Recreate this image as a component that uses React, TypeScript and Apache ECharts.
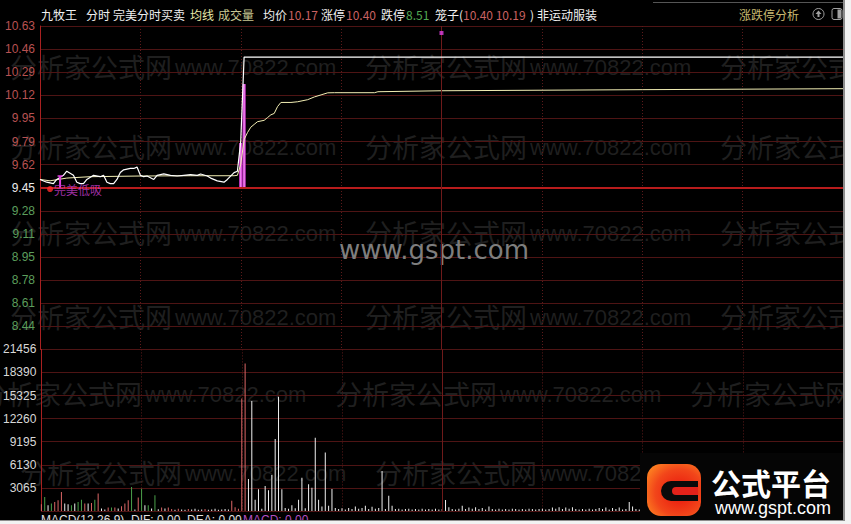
import React, { useEffect, useRef } from "react";
import * as echarts from "echarts";

// ---------- data ----------
const stockName = "九牧王";
const prevClose = 9.45;
const priceStep = 0.168;
const avgPriceText = "10.17";
const limitUpText = "10.40";
const limitDownText = "8.51";
const cageText = "10.40 10.19";
const industryText = "非运动服装";
const volumeTop = 21456;

// price line: minute index (0 = 9:30 ... 240 = 15:00) and price
const priceMinutes = [0, 2, 4, 5, 7, 8, 10, 11, 12, 13, 14, 16, 18, 19, 20, 21, 22, 23, 24, 25, 27, 28, 29, 30, 31, 32, 34, 35, 37, 39, 41, 43, 45, 47, 48, 50, 51, 53, 55, 56, 58, 59, 60, 61, 240];
const priceValues = [9.51, 9.49, 9.48, 9.51, 9.54, 9.57, 9.54, 9.49, 9.48, 9.48, 9.51, 9.54, 9.53, 9.54, 9.49, 9.48, 9.48, 9.51, 9.56, 9.58, 9.59, 9.59, 9.6, 9.54, 9.53, 9.535, 9.51, 9.54, 9.55, 9.54, 9.535, 9.54, 9.545, 9.54, 9.55, 9.535, 9.52, 9.5, 9.49, 9.51, 9.56, 9.57, 9.79, 10.4, 10.4];

// average price line
const avgMinutes = [0, 3, 8, 15, 30, 45, 58, 59, 60, 61, 62, 63, 64, 65, 67, 68, 69, 70, 71, 72, 75, 77, 80, 82, 84, 86, 88, 100, 101, 120, 180, 240];
const avgValues = [9.51, 9.5, 9.52, 9.53, 9.535, 9.537, 9.537, 9.54, 9.62, 9.8, 9.85, 9.89, 9.91, 9.93, 9.94, 9.96, 9.98, 9.99, 10.04, 10.07, 10.07, 10.075, 10.09, 10.11, 10.125, 10.14, 10.141, 10.141, 10.148, 10.155, 10.163, 10.17];

// per-minute volume, minutes 0..240
const volumes = [
  900, 1860, 760, 980, 1190, 1420, 2520, 980, 890, 760,
  980, 1190, 1510, 980, 980, 1060, 1510, 2310, 320, 190,
  450, 450, 450, 320, 620, 980, 1420, 3180, 190, 1780,
  2970, 760, 760, 320, 2080, 230, 450, 320, 450, 260,
  180, 300, 200, 150, 260, 200, 300, 150, 200, 260,
  150, 200, 300, 150, 200, 260, 200, 1370, 490, 300,
  14950, 19600, 4250, 14600, 1500, 2880, 300, 3320, 2740, 4780,
  9550, 15170, 2900, 400, 300, 780, 350, 1500, 4430, 350,
  3540, 3100, 9720, 1500, 600, 7780, 700, 2930, 400, 250,
  350, 200, 400, 250, 600, 300, 400, 700, 250, 550,
  300, 400, 5300, 250, 2030, 700, 250, 300, 200, 250,
  300, 200, 250, 200, 300, 200, 250, 200, 300, 200,
  250, 1460, 500, 250, 200, 300, 700, 250, 450, 300,
  500, 250, 400, 200, 600, 250, 200, 300, 200, 250,
  200, 300, 250, 200, 250, 200, 300, 250, 200, 250,
  300, 200, 250, 450, 300, 500, 250, 450, 300, 500,
  250, 200, 250, 200, 300, 200, 250, 400, 250, 450,
  200, 400, 250, 450, 200, 250, 1200, 600, 250, 200,
  300, 200, 250, 300, 600, 200, 250, 700, 200, 250,
  300, 200, 250, 200, 300, 450, 200, 250, 300, 200,
  250, 200, 300, 250, 400, 200, 250, 300, 200, 250,
  300, 200, 250, 200, 300, 250, 200, 250, 300, 200,
  250, 300, 200, 250, 200, 300, 250, 200, 400, 250,
  200, 300, 250, 200, 250, 300, 200, 250, 300, 450,
  900,
];
// price direction of minutes 0..61 (1 up, -1 down, 0 flat); later minutes sit flat at limit-up
const volumeDir = [
  1, -1, 0, -1, 1, 1, 1, 0, 0, -1,
  0, -1, -1, 1, 0, 1, -1, 1, 0, 0,
  1, -1, 1, 0, 1, 1, 1, -1, 0, 1,
  -1, 0, -1, 0, -1, 0, 1, 0, 1, 1,
  0, 1, 0, 0, 1, 0, 0, 0, 0, 1,
  0, 0, 0, 0, 0, 0, 0, 1, 1, 1,
  1, 1,
];

// "完美分时买卖" signal bars: minute, from, to
const signalBars = [
  [60, 9.45, 9.775],
  [61, 9.45, 10.204],
];
const lowBuyMark = [6, 9.45, 9.535];
const lowBuyDot = [3, 9.44];
const lowBuyLabel = "完美低吸";
const topDot = [120, 10.575];

const wmCjk = "分析家公式网";
const wmLatin = "www.70822.com";

export default function App() {
  const ref = useRef<HTMLDivElement>(null);

  useEffect(() => {
    if (!ref.current) return;
    const chart = echarts.init(ref.current, undefined, { renderer: "svg" });

    const pMin = +(prevClose - 7 * priceStep).toFixed(3);
    const pMax = +(prevClose + 7 * priceStep).toFixed(3);

    const priceData = priceMinutes.map((m, i) => [m, priceValues[i]]);
    const avgData = avgMinutes.map((m, i) => [m, avgValues[i]]);
    const volData = volumes.map((v, i) => [i, v, i < volumeDir.length ? volumeDir[i] : 0]);

    const cjk = '"Noto Sans CJK SC", sans-serif';
    const header: any[] = [
      [stockName, 41, "#f0f0f0"],
      ["分时", 86, "#f0f0f0"],
      ["完美分时买卖", 113, "#f0f0f0"],
      ["均线", 190, "#e8e8a8"],
      ["成交量", 218, "#c8c894"],
      ["均价", 263, "#f0f0f0"],
      [avgPriceText, 288, "#c86262"],
      ["涨停", 321, "#f0f0f0"],
      [limitUpText, 346, "#c86262"],
      ["跌停", 381, "#f0f0f0"],
      [limitDownText, 406, "#52a852"],
      ["笼子(", 435, "#f0f0f0"],
      [cageText, 463, "#c86262"],
      [")", 530, "#f0f0f0"],
      [industryText, 537, "#f0f0f0"],
      ["涨跌停分析", 739, "#c8b870"],
    ];

    const wmRows = [
      [66, 10],
      [146, 10],
      [232, 10],
      [316, 10],
      [393, -20],
      [472, 20],
    ];
    const wmColor = "#1f1f1f";
    const watermarks: any[] = [];
    wmRows.forEach(([y, x0]) => {
      for (let k = 0; k < 3; k++) {
        const bx = x0 + k * 355;
        if (bx > 843) continue;
        watermarks.push({
          type: "text",
          x: bx,
          y,
          z: -10,
          silent: true,
          style: { text: wmCjk, fill: wmColor, font: '27px "Noto Sans CJK SC", sans-serif', textVerticalAlign: "middle" },
        });
        if (bx + 165 < 843) {
          watermarks.push({
            type: "text",
            x: bx + 165,
            y: y + 1,
            z: -10,
            silent: true,
            style: { text: wmLatin, fill: wmColor, font: '22px "Liberation Sans", sans-serif', textVerticalAlign: "middle" },
          });
        }
      }
    });

    const graphic: any[] = [
      ...watermarks,
      {
        type: "text",
        x: 434,
        y: 250,
        z: 1,
        silent: true,
        style: {
          text: "www.gspt.com",
          fill: "#7e7e7e",
          font: '26px "DejaVu Sans", sans-serif',
          textAlign: "center",
          textVerticalAlign: "middle",
        },
      },
      ...header.map(([t, x, c]) => ({
        type: "text",
        x,
        y: 14,
        z: 5,
        style: { text: t, fill: c, font: `12px ${cjk}`, textVerticalAlign: "middle" },
      })),
      // header icons
      { type: "circle", shape: { cx: 818.5, cy: 14, r: 5.5 }, z: 5, style: { fill: "none", stroke: "#a0a0a0", lineWidth: 1 } },
      { type: "polygon", shape: { points: [[818.5, 10.5], [815.5, 14], [821.5, 14]] }, z: 5, style: { fill: "#a0a0a0" } },
      { type: "rect", shape: { x: 817.5, y: 14, width: 2, height: 3 }, z: 5, style: { fill: "#a0a0a0" } },
      { type: "rect", shape: { x: 832, y: 8.5, width: 10, height: 11, r: 2 }, z: 5, style: { fill: "none", stroke: "#a0a0a0", lineWidth: 1 } },
      { type: "rect", shape: { x: 837.5, y: 9.5, width: 3.5, height: 9 }, z: 5, style: { fill: "#a0a0a0" } },
      { type: "line", shape: { x1: 653, y1: 2.5, x2: 843, y2: 2.5 }, z: 5, style: { stroke: "#555", lineWidth: 1 } },
      // MACD line under the volume panel
      {
        type: "text",
        x: 41,
        y: 514,
        z: 5,
        style: { text: "MACD(12,26,9)  DIF: 0.00  DEA: 0.00", fill: "#e0e0e0", font: '12px "Liberation Sans", sans-serif', textVerticalAlign: "top" },
      },
      {
        type: "text",
        x: 243,
        y: 514,
        z: 5,
        style: { text: "MACD: 0.00", fill: "#b050c0", font: '12px "Liberation Sans", sans-serif', textVerticalAlign: "top" },
      },
      // logo
      { type: "rect", shape: { x: 640, y: 453, width: 203, height: 67 }, z: 50, style: { fill: "#050505" } },
      {
        type: "rect",
        shape: { x: 647, y: 464, width: 54, height: 52, r: 14 },
        z: 51,
        style: {
          fill: new echarts.graphic.RadialGradient(0.6, 0.55, 0.75, [
            { offset: 0, color: "#e8120c" },
            { offset: 0.6, color: "#f2461a" },
            { offset: 1, color: "#ff8a22" },
          ]),
        },
      },
      { type: "rect", shape: { x: 661, y: 481, width: 37, height: 20, r: [10, 0, 0, 10] }, z: 52, style: { fill: "#0a0a0a" } },
      { type: "rect", shape: { x: 672, y: 487, width: 26, height: 8, r: [4, 0, 0, 4] }, z: 53, style: { fill: "#e4221a" } },
      {
        type: "text",
        x: 771,
        y: 482,
        z: 52,
        style: { text: "公式平台", fill: "#ffffff", font: `bold 30px ${cjk}`, textAlign: "center", textVerticalAlign: "middle" },
      },
      {
        type: "text",
        x: 773,
        y: 508,
        z: 52,
        style: { text: "www.gspt.com", fill: "#ffffff", font: '18px "Liberation Sans", sans-serif', textAlign: "center", textVerticalAlign: "middle" },
      },
      // window frame (right and bottom)
      { type: "rect", shape: { x: 843, y: 0, width: 8, height: 524 }, z: 60, style: { fill: "#f2f2f2" } },
      { type: "rect", shape: { x: 0, y: 520, width: 851, height: 4 }, z: 60, style: { fill: "#f2f2f2" } },
      { type: "line", shape: { x1: 844, y1: 0, x2: 844, y2: 521 }, z: 61, style: { stroke: "#8c8c8c", lineWidth: 2 } },
      { type: "line", shape: { x1: 0, y1: 520.5, x2: 845, y2: 520.5 }, z: 61, style: { stroke: "#8c8c8c", lineWidth: 1 } },
    ];

    const gridLine = "#4e1414";
    const vDotted = { show: true, lineStyle: { color: "#5c1a1a", type: [1, 2] as any, width: 1 } };
    const labelFont = '"Liberation Sans", Arial, sans-serif';

    const option: any = {
      animation: false,
      backgroundColor: "#000000",
      grid: [
        { left: 40, right: 8, top: 26, height: 323.4 },
        { left: 40, right: 8, top: 349.4, height: 161.6 },
      ],
      xAxis: [0, 1].map((g) => ({
        type: "value",
        gridIndex: g,
        min: 0,
        max: 240,
        interval: 30,
        axisLine: { show: false },
        axisTick: { show: false },
        axisLabel: { show: false },
        splitLine: vDotted,
      })),
      yAxis: [
        {
          type: "value",
          gridIndex: 0,
          min: pMin,
          max: pMax,
          interval: priceStep,
          axisLine: { show: true, lineStyle: { color: "#a82020", width: 1 } },
          axisTick: { show: false },
          splitLine: { show: true, lineStyle: { color: gridLine, width: 1 } },
          axisLabel: {
            showMinLabel: false,
            margin: 5,
            fontFamily: labelFont,
            fontSize: 12,
            formatter: (v: number) => {
              const s = v.toFixed(2);
              const key = Math.abs(v - prevClose) < 0.001 ? "w" : v > prevClose ? "r" : "g";
              return `{${key}|${s}}`;
            },
            rich: {
              r: { color: "#b85252", fontSize: 12, fontFamily: labelFont },
              g: { color: "#5c9e5c", fontSize: 12, fontFamily: labelFont },
              w: { color: "#ececec", fontSize: 12, fontFamily: labelFont },
            },
          },
        },
        {
          type: "value",
          gridIndex: 1,
          min: 0,
          max: volumeTop,
          interval: volumeTop / 7,
          axisLine: { show: true, lineStyle: { color: "#a82020", width: 1 } },
          axisTick: { show: false },
          splitLine: { show: true, lineStyle: { color: gridLine, width: 1 } },
          axisLabel: {
            showMinLabel: false,
            margin: 5,
            color: "#d8d8d8",
            fontFamily: labelFont,
            fontSize: 12,
            formatter: (v: number) => String(Math.floor(v + 1e-6)),
          },
        },
      ],
      graphic,
      series: [
        {
          type: "custom",
          name: "signal",
          xAxisIndex: 0,
          yAxisIndex: 0,
          z: 3,
          silent: true,
          data: signalBars,
          renderItem: (_p: any, api: any) => {
            const m = api.value(0);
            const a = api.coord([m, api.value(1)]);
            const b = api.coord([m, api.value(2)]);
            const w = 3.2;
            return {
              type: "group",
              children: [
                { type: "rect", shape: { x: a[0] - w / 2, y: b[1], width: w, height: a[1] - b[1] }, style: { fill: "#d63cd6" } },
                { type: "rect", shape: { x: a[0] - 0.4, y: b[1], width: 0.8, height: a[1] - b[1] }, style: { fill: "#f4aef4" } },
              ],
            };
          },
        },
        {
          type: "custom",
          name: "lowbuy",
          xAxisIndex: 0,
          yAxisIndex: 0,
          z: 6,
          silent: true,
          data: [lowBuyMark],
          renderItem: (_p: any, api: any) => {
            const m = api.value(0);
            const a = api.coord([m, api.value(1)]);
            const b = api.coord([m, api.value(2)]);
            return {
              type: "group",
              children: [
                { type: "line", shape: { x1: a[0], y1: a[1], x2: b[0], y2: b[1] }, style: { stroke: "#e040e0", lineWidth: 2 } },
                { type: "line", shape: { x1: b[0] - 2.5, y1: b[1], x2: b[0] + 2.5, y2: b[1] }, style: { stroke: "#e040e0", lineWidth: 1.5 } },
              ],
            };
          },
        },
        {
          type: "line",
          name: "avg",
          xAxisIndex: 0,
          yAxisIndex: 0,
          z: 4,
          data: avgData,
          showSymbol: false,
          lineStyle: { color: "#f2eeb4", width: 1 },
          silent: true,
        },
        {
          type: "line",
          name: "price",
          xAxisIndex: 0,
          yAxisIndex: 0,
          z: 5,
          data: priceData,
          showSymbol: false,
          lineStyle: { color: "#ffffff", width: 1.2 },
          silent: true,
          markLine: {
            silent: true,
            symbol: "none",
            label: { show: false },
            data: [
              { yAxis: prevClose, lineStyle: { color: "#b81c1c", width: 2, type: "solid" } },
              { xAxis: 120, lineStyle: { color: "#6e1a1a", width: 1, type: "solid" } },
            ],
          },
        },
        {
          type: "scatter",
          name: "lowbuyDot",
          xAxisIndex: 0,
          yAxisIndex: 0,
          z: 7,
          data: [lowBuyDot],
          symbol: "circle",
          symbolSize: 6,
          itemStyle: { color: "#ff2a2a" },
          label: {
            show: true,
            position: "right",
            distance: 1,
            formatter: lowBuyLabel,
            color: "#c43ccc",
            fontSize: 12,
            fontFamily: cjk,
          },
          silent: true,
        },
        {
          type: "scatter",
          name: "topDot",
          xAxisIndex: 0,
          yAxisIndex: 0,
          z: 7,
          data: [topDot],
          symbol: "rect",
          symbolSize: 4,
          itemStyle: { color: "#e040e0" },
          silent: true,
        },
        {
          type: "bar",
          name: "volume",
          xAxisIndex: 1,
          yAxisIndex: 1,
          z: 3,
          barWidth: 1,
          data: volData,
          encode: { x: 0, y: 1 },
          silent: true,
          itemStyle: {
            color: (p: any) => {
              const d = p.data[2];
              return d > 0 ? "#dc6666" : d < 0 ? "#4aa04a" : "#f0f0f0";
            },
          },
          markLine: {
            silent: true,
            symbol: "none",
            label: { show: false },
            data: [{ xAxis: 120, lineStyle: { color: "#6e1a1a", width: 1, type: "solid" } }],
          },
        },
      ],
    };

    chart.setOption(option);
    return () => chart.dispose();
  }, []);

  return (
    <div
      ref={ref}
      style={{ position: "fixed", left: 0, top: 0, width: 851, height: 524, background: "#000" }}
    />
  );
}
